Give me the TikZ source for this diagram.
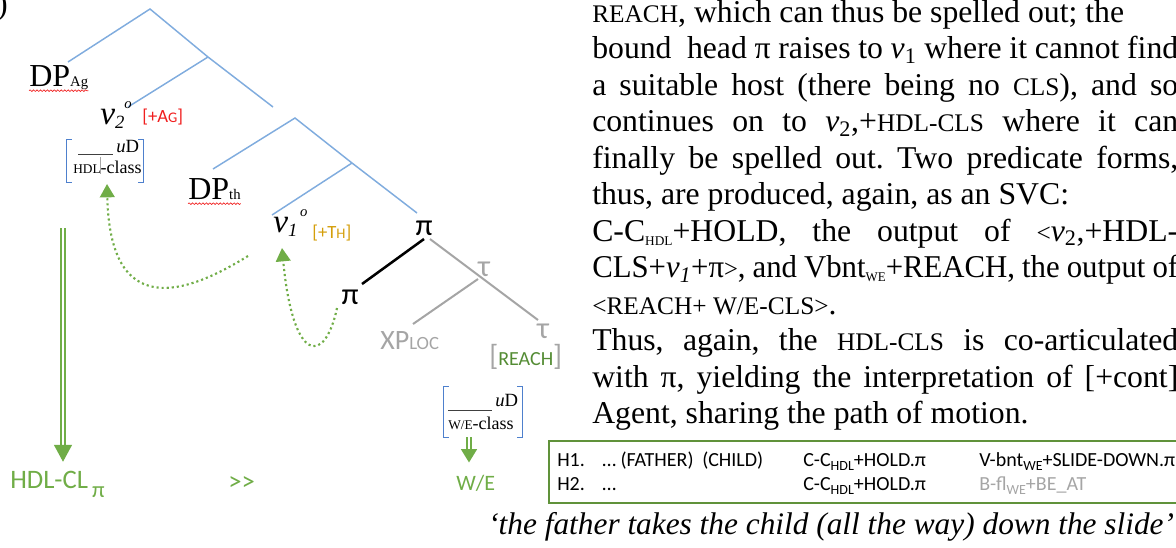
\documentclass[tikz,border=0pt]{standalone}
\usepackage{fontspec}
\usepackage{graphicx}
\setmainfont{Liberation Serif}
\newfontfamily\calfont{Carlito}
\usetikzlibrary{arrows.meta,decorations.pathmorphing}
\frenchspacing

\definecolor{treeblue}{RGB}{128,172,222}
\definecolor{brackblue}{RGB}{78,128,205}
\definecolor{arrgreen}{RGB}{112,173,71}
\definecolor{boxgreen}{RGB}{96,146,58}
\definecolor{reachgreen}{RGB}{84,140,52}
\definecolor{lightgrey}{RGB}{165,165,165}
\definecolor{thgold}{RGB}{212,158,10}
\definecolor{agred}{RGB}{240,30,30}

\newcommand\fs[1]{\fontsize{#1}{#1}\selectfont}
\newcommand\smc[1]{{\fs{19pt}#1}}
\newcommand\lowsub[1]{\raisebox{-3pt}{\fs{10pt}#1}}
\newcommand\tsub[1]{\raisebox{-3pt}{\fs{10.5pt}#1}}
% a justified line of the running text
\newcommand\jline[1]{\makebox[439.5pt][s]{#1}}
% a justified line that is set slightly condensed
\newcommand\jlinetight[1]{\scalebox{0.97}[1]{\makebox[453pt][s]{#1}}}
% square brackets of a feature matrix around a node
\newcommand\fbrackets[1]{%
  \draw[brk] ([xshift=3.8pt]#1.north west) -- (#1.north west) -- (#1.south west) -- ([xshift=3.8pt]#1.south west);
  \draw[brk] ([xshift=-3.8pt]#1.north east) -- (#1.north east) -- (#1.south east) -- ([xshift=-3.8pt]#1.south east);}

\tikzset{
  body/.style={anchor=base west, inner sep=0pt, font=\fs{23.8pt}},
  lab/.style={anchor=base west, inner sep=0pt},
  tab/.style={anchor=base west, inner sep=0pt, font=\calfont\fs{15pt}},
  glyph/.style={inner sep=0pt, font=\calfont\fs{23pt}},
  tree/.style={treeblue, line width=1.1pt},
  headline/.style={black, line width=1.9pt},
  greyline/.style={lightgrey, line width=1.5pt},
  brk/.style={brackblue, line width=1pt},
  fbox/.style={inner sep=0pt},
  blank/.style={black!75, line width=0.6pt},
  spell/.style={agred, line width=0.5pt, decorate, decoration={snake, amplitude=0.6pt, segment length=2.6pt}},
  move/.style={arrgreen, line width=1.6pt, dash pattern=on 1.6pt off 2.2pt, -{Triangle[width=11pt,length=10pt]}},
  spellout/.style={draw=arrgreen, line width=1.1pt, double=white, double distance=1.9pt},
}

\begin{document}
\begin{tikzpicture}[x=0.75pt,y=-0.75pt]
\useasboundingbox (0,0) rectangle (1176,547);
\clip (0,0) rectangle (1176,547);

% ---------------- tree ----------------
\node[anchor=base east, inner sep=0pt, font=\fs{24pt}] (paren) at (8,14) {)};

\coordinate (r) at (150,9);
\coordinate (a) at (208,57);
\coordinate (aE) at (273,107);
\coordinate (dpagT) at (68,62);
\coordinate (v2T) at (128,107);
\coordinate (b) at (295,118);
\coordinate (c) at (352,163);
\coordinate (dpthT) at (213,169);
\coordinate (piT) at (417,213);
\coordinate (v1T) at (272,215);
\draw[tree] (dpagT) -- (r) -- (a) -- (aE);
\draw[tree] (a) -- (v2T);
\draw[tree] (dpthT) -- (b) -- (c) -- (piT);
\draw[tree] (c) -- (v1T);

\node[lab, font=\fs{24pt}] (dpag) at (29,86) {DP{\fs{11pt}Ag}};
\draw[spell] ([yshift=-3.5pt]dpag.base west) -- ([yshift=-3.5pt]dpag.base east);
\node[lab, font=\itshape\fs{25pt}] (v2) at (100,124) {v\raisebox{-3pt}{\fs{14pt}2}\raisebox{12pt}{\fs{11pt}o}};
\node[lab, font=\calfont\fs{14pt}, text=agred] (ag) at (142,122) {[+A{\fs{11pt}G}]};

\node[fbox, minimum width=57pt, minimum height=31.5pt] (fb1) at (105,161) {};
\fbrackets{fb1}
\draw[blank] (78,154) -- (113,154);
\node[lab, font=\fs{14pt}] (ud1) at (116,152) {\textit{u}D};
\node[lab] (cls1) at (73,173) {{\fs{10pt}HDL}{\fs{13.5pt}-class}};
\draw[lightgrey, line width=0.7pt] (100,157) -- (100,174);

\node[lab, font=\fs{24pt}] (dpth) at (188,199) {DP{\fs{11pt}th}};
\draw[spell] ([yshift=-3.5pt]dpth.base west) -- ([yshift=-3.5pt]dpth.base east);
\node[lab, font=\itshape\fs{25pt}] (v1) at (273,232) {v\raisebox{-3pt}{\fs{14pt}1}\hspace{2pt}\raisebox{12pt}{\fs{11pt}o}};
\node[lab, font=\calfont\fs{14pt}, text=thgold] (th) at (312,238) {[+T{\fs{11pt}H}]};

\node[glyph] (piU) at (424,228) {π};
\node[glyph] (piL) at (350,297) {π};
\node[glyph, text=lightgrey] (tauU) at (484,269) {τ};
\node[glyph, text=lightgrey] (tauL) at (543,331) {τ};
\coordinate (piUb) at (424,239);
\coordinate (piLt) at (362,284);
\coordinate (piUr) at (430,239);
\coordinate (tauLt) at (538,320);
\coordinate (tauUb) at (478,279);
\coordinate (xpT) at (413,324);
\draw[headline] (piUb) -- (piLt);
\draw[greyline] (piUr) -- (tauLt);
\draw[greyline] (tauUb) -- (xpT);

\node[lab, text=lightgrey, font=\calfont] (xp) at (380,349) {{\fs{21pt}XP}{\fs{14pt}LOC}};
\node[lab, font=\calfont] (reach) at (489,365) {{\color{lightgrey}\fs{22pt}[}{\color{reachgreen}\fs{15pt}REACH}{\color{lightgrey}\fs{22pt}]}};

\node[fbox, minimum width=58.5pt, minimum height=37.5pt] (fb2) at (483,412) {};
\fbrackets{fb2}
\draw[blank] (448,410) -- (492,410);
\node[lab, font=\fs{14pt}] (ud2) at (495,406) {\textit{u}D};
\node[lab] (cls2) at (448,429) {{\fs{10pt}W/E}{\fs{13.5pt}-class}};

% movement of the bound head
\coordinate (m1s) at (248,256);
\coordinate (m1e) at (107,184);
\draw[move] (m1s) .. controls (185,295) and (110,320) .. (m1e);
\coordinate (m2s) at (337,308);
\coordinate (m2e) at (282,248);
\draw[move] (m2s) .. controls (325,365) and (293,365) .. (m2e);

% spell-out
\node[lab, font=\calfont\fs{20pt}, text=arrgreen] (hdlcl) at (10,488) {HDL-CL\hspace{3pt}\raisebox{-7pt}{\fs{17pt}π}};
\node[lab, font=\calfont\fs{20pt}, text=arrgreen] (gg) at (228,490) {>{}>};
\node[lab, font=\calfont\fs{16.5pt}, text=arrgreen] (we) at (456,490) {W/E};
\coordinate (d1top) at (63,228);
\draw[spellout, -{Triangle[width=13.5pt,length=12.75pt,fill=arrgreen]}, shorten >=6.5pt] (d1top) -- (d1top |- hdlcl.north);
\coordinate (d2top) at (469,437);
\draw[spellout, -{Triangle[width=12pt,length=10pt,fill=arrgreen]}, shorten >=9pt] (d2top) -- (d2top |- we.north);

% ---------------- prose ----------------
\node[body] (l0) at (592,22) {\smc{REACH}, which can thus be spelled out; the};
\node[body] (l1) at (592,58.5) {\jline{bound\ \ head π raises to \textit{v}\textsubscript{1} where it cannot find}};
\node[body] (l2) at (592,95) {\jline{a suitable host (there being no \smc{CLS}), and so}};
\node[body] (l3) at (592,131.5) {\jline{continues on to \textit{v}\textsubscript{2},+\smc{HDL-CLS} where it can}};
\node[body] (l4) at (592,168) {\jline{finally be spelled out. Two predicate forms,}};
\node[body] (l5) at (592,204.5) {thus, are produced, again, as an SVC:};
\node[body] (l6) at (592,241) {\jline{C-C\lowsub{HDL}+HOLD, the output of \smc{<}\textit{v}\textsubscript{2},+HDL-}};
\node[body] (l7) at (592,277.5) {\jlinetight{CLS+\textit{v\textsubscript{1}}+π\smc{>}, and Vbnt\lowsub{WE}+REACH, the output of}};
\node[body] (l8) at (592,314) {\smc{<REACH+ W/E-CLS>}.};
\node[body] (l9) at (592,350.5) {\jline{Thus, again, the \smc{HDL-CLS} is co-articulated}};
\node[body] (l10) at (592,387) {\jline{with π, yielding the interpretation of [+cont]}};
\node[body] (l11) at (592,423.5) {Agent, sharing the path of motion.};

% ---------------- gloss table ----------------
\node[draw=boxgreen, line width=1.2pt, minimum width=480.75pt, minimum height=46.5pt, inner sep=0pt] (tbl) at (869.5,472) {};
\node[tab] (h1) at (557,466) {H1.};
\node[tab] (h1a) at (602,466) {… (FATHER)};
\node[tab] (h1b) at (702,466) {(CHILD)};
\node[tab] (h1c) at (803,466) {C-C\tsub{HDL}+HOLD.π};
\node[tab] (h1d) at (979,466) {V-bnt\tsub{WE}+SLIDE-DOWN.π};
\node[tab] (h2) at (557,490) {H2.};
\node[tab] (h2a) at (602,490) {…};
\node[tab] (h2c) at (803,490) {C-C\tsub{HDL}+HOLD.π};
\node[tab, text=lightgrey] (h2d) at (979,490) {B-fl\tsub{WE}+BE\_AT};

\node[anchor=base west, inner sep=0pt, font=\itshape\fs{23.5pt}] (quote) at (488,534) {‘the father takes the child (all the way) down the slide’};
\end{tikzpicture}
\end{document}
